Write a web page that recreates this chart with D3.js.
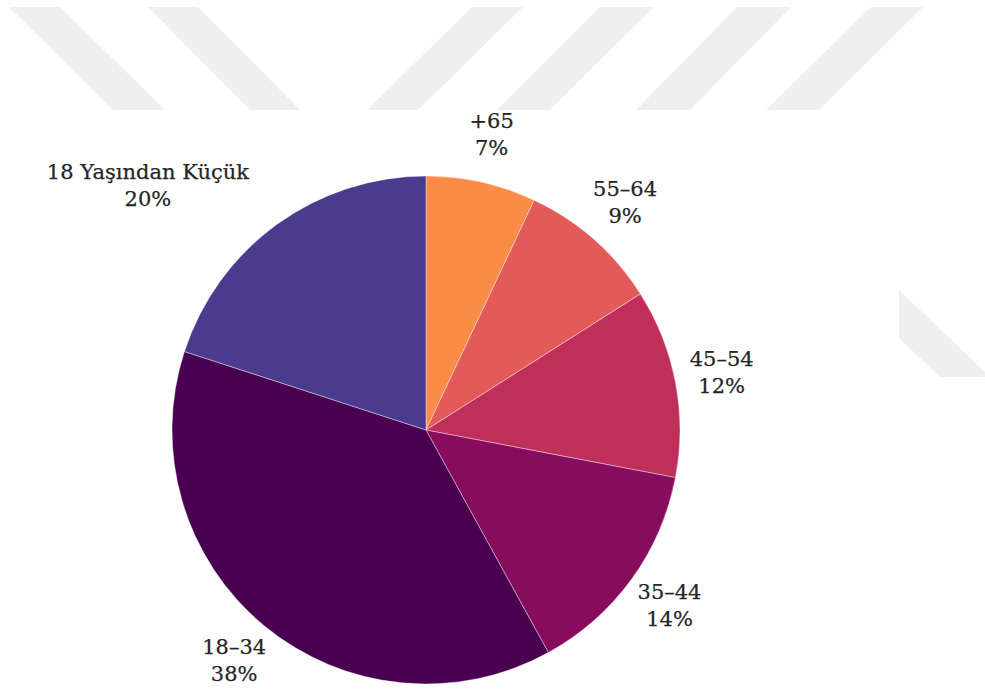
<!DOCTYPE html>
<html>
<head>
<meta charset="utf-8">
<script src="https://cdn.jsdelivr.net/npm/d3@7"></script>
<style>
  html, body { margin: 0; padding: 0; background: #fff; }
  svg { display: block; }
</style>
</head>
<body>
<svg id="chart" width="985" height="690"></svg>
<script>
// Age groups, clockwise from twelve o'clock
const categories = ["+65", "55–64", "45–54", "35–44", "18–34", "18 Yaşından Küçük"];
const shares = [7, 9, 12, 14, 38, 20];
const percentLabels = ["7%", "9%", "12%", "14%", "38%", "20%"];
const sliceColors = ["#fb8c45", "#e25b58", "#c02f5a", "#880c5d", "#4a0050", "#4b3b8c"];

// Light grey diagonal bands in the page background
const bands = [
  [[9, 7], [60, 7], [165, 110], [113, 110]],
  [[148, 7], [198, 7], [300, 110], [250, 110]],
  [[472, 7], [523, 7], [418, 110], [367, 110]],
  [[600, 7], [654, 7], [550, 110], [497, 110]],
  [[737, 7], [791, 7], [690, 110], [636, 110]],
  [[871, 7], [923, 7], [819, 110], [766, 110]],
  [[899, 290], [985, 372], [985, 377], [940, 377], [899, 338]]
];

const svg = d3.select("#chart");
const cx = 426, cy = 430, radius = 254, labelRadius = 301;

svg.append("g").selectAll("polygon")
  .data(bands)
  .join("polygon")
  .attr("points", d => d.map(p => p.join(",")).join(" "))
  .attr("fill", "#efefef");

const data = categories.map((c, i) => ({ name: c, value: shares[i], pct: percentLabels[i], color: sliceColors[i] }));

const pie = d3.pie().value(d => d.value).sort(null);
const arcs = pie(data);
const arc = d3.arc().innerRadius(0).outerRadius(radius);
const labelArc = d3.arc().innerRadius(labelRadius).outerRadius(labelRadius);

const g = svg.append("g").attr("transform", `translate(${cx},${cy})`);

g.selectAll("path")
  .data(arcs)
  .join("path")
  .attr("d", arc)
  .attr("fill", d => d.data.color)
  .attr("stroke", "#fff")
  .attr("stroke-width", 0.4);

const fontSize = 21, lineGap = 27;
const labels = g.selectAll("text.lbl")
  .data(arcs)
  .join("text")
  .attr("class", "lbl")
  .attr("font-family", "'DejaVu Serif', serif")
  .attr("font-size", fontSize)
  .attr("fill", "#262626")
  .attr("stroke", "#262626")
  .attr("stroke-width", 0.25)
  .attr("text-anchor", "middle");

labels.each(function(d) {
  const [x, y] = labelArc.centroid(d);
  const t = d3.select(this);
  t.append("tspan").attr("x", x).attr("y", y - lineGap / 2).attr("dominant-baseline", "middle").text(d.data.name);
  t.append("tspan").attr("x", x).attr("y", y + lineGap / 2).attr("dominant-baseline", "middle").text(d.data.pct);
  // A centred label that would run into the pie is pushed outward by half its width
  const bb = this.getBBox();
  const nx = x < 0 ? bb.x + bb.width : bb.x;
  const ny = y < 0 ? bb.y + bb.height : bb.y;
  if (Math.hypot(nx, ny) < radius + 4) {
    const w = bb.width;
    t.selectAll("tspan").attr("x", x < 0 ? x - w / 2 : x + w / 2);
  }
});
</script>
</body>
</html>
